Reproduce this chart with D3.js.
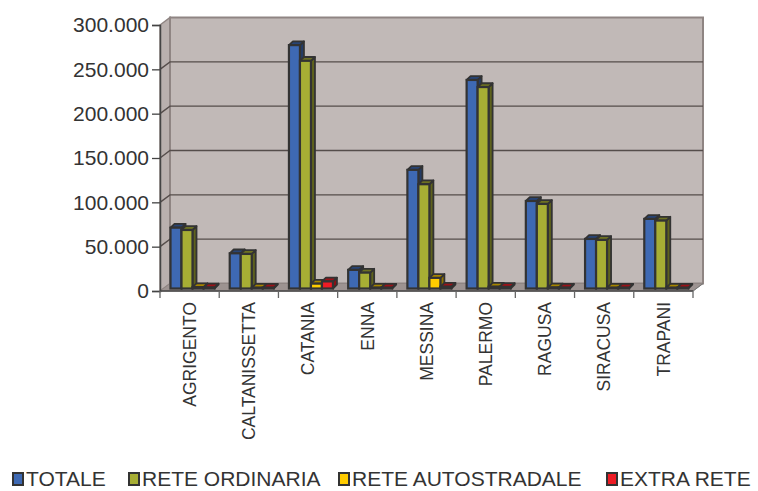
<!DOCTYPE html>
<html><head><meta charset="utf-8">
<script src="https://cdn.jsdelivr.net/npm/d3@7/dist/d3.min.js"></script>
<style>body{margin:0;background:#fff}svg{display:block}text{font-family:"Liberation Sans",Arial,sans-serif;fill:#333}</style>
</head><body><svg id="c" width="758" height="491"></svg>
<script>
const categories = ["AGRIGENTO","CALTANISSETTA","CATANIA","ENNA","MESSINA","PALERMO","RAGUSA","SIRACUSA","TRAPANI"];
const seriesNames = ["TOTALE","RETE ORDINARIA","RETE AUTOSTRADALE","EXTRA RETE"];
const totale = [68600, 39700, 274500, 21000, 133800, 235200, 98700, 55900, 78500];
const reteOrdinaria = [66000, 39000, 256800, 17900, 117600, 227200, 95400, 54800, 76600];
const reteAutostradale = [1500, 300, 5500, 1000, 12000, 2000, 1200, 500, 800];
const extraRete = [1100, 400, 8000, 800, 2000, 1800, 1000, 400, 900];
const yTicks = [0, 50000, 100000, 150000, 200000, 250000, 300000];
const colors = ["#3e69b3", "#a7ae34", "#ffcc00", "#ee1c25"];

const series = [totale, reteOrdinaria, reteAutostradale, extraRete];
const svg = d3.select("#c");
const X0 = 160, X1 = 693, DX = 10, DY = -7.5;
const x = d3.scaleBand().domain(categories).range([X0, X1]).padding(0);
const y = d3.scaleLinear().domain([0, 300000]).range([291, 25]);
const fmt = v => d3.format(",")(v).replace(/,/g, ".");

// walls
const wallStroke = "#8f8583";
svg.append("path").attr("d", `M${X0},${y(300000)}L${X0+DX},${y(300000)+DY}L${X0+DX},${y(0)+DY}L${X0},${y(0)}Z`)
  .attr("fill", "#b9b0ae").attr("stroke", wallStroke).attr("stroke-width", 1.5);
svg.append("rect").attr("x", X0+DX).attr("y", y(300000)+DY).attr("width", X1-X0).attr("height", y(0)-y(300000))
  .attr("fill", "#c1b9b7").attr("stroke", wallStroke).attr("stroke-width", 2);
svg.append("path").attr("d", `M${X0},${y(0)}L${X0+DX},${y(0)+DY}L${X1+DX},${y(0)+DY}L${X1},${y(0)}Z`)
  .attr("fill", "#9d9391").attr("stroke", wallStroke).attr("stroke-width", 1);

// gridlines
yTicks.filter(v => v > 0 && v < 300000).forEach(v => {
  svg.append("path").attr("d", `M${X0},${y(v)}L${X0+DX},${y(v)+DY}L${X1+DX},${y(v)+DY}`)
    .attr("fill", "none").attr("stroke", "#554d4b").attr("stroke-width", 1.4);
});

// axes
const yAxis = d3.axisLeft(y).tickValues(yTicks).tickSize(8).tickPadding(3).tickFormat(fmt);
const ya = svg.append("g").attr("transform", `translate(${X0},0)`).call(yAxis);
ya.select(".domain").attr("stroke", "#444").attr("stroke-width", 1.5);
ya.selectAll(".tick line").attr("stroke", "#444").attr("stroke-width", 1.3);
ya.selectAll(".tick text").attr("font-size", 21).attr("fill", "#333").attr("font-family", '"Liberation Sans",Arial,sans-serif');

const xa = svg.append("g").attr("transform", `translate(0,${y(0)})`);
xa.append("line").attr("x1", X0).attr("x2", X1).attr("stroke", "#444").attr("stroke-width", 1.5);
xa.append("line").attr("x1", X1).attr("y1", 0).attr("x2", X1+DX).attr("y2", DY).attr("stroke", "#777").attr("stroke-width", 1);
const bounds = categories.map(c => x(c)).concat([X1]);
xa.selectAll("line.t").data(bounds).enter().append("line").attr("class", "t")
  .attr("x1", d => d).attr("x2", d => d).attr("y1", 0).attr("y2", 7).attr("stroke", "#666").attr("stroke-width", 1.3);
xa.selectAll("text").data(categories).enter().append("text")
  .attr("transform", d => `translate(${x(d) + x.bandwidth()/2 + 6.3},11) rotate(-90)`)
  .attr("text-anchor", "end").attr("font-size", 17.5).text(d => d);

// bars
const bw = 11, bdx = 4, bdy = -3.8, off = 10.5, baseShift = -2.5;
categories.forEach((c, i) => {
  series.forEach((s, j) => {
    const col = colors[j];
    const bx = x(c) + off + j * bw;
    const yb = y(0) + baseShift;
    const yt = Math.min(y(s[i]) + baseShift, yb - 0.8);
    const g = svg.append("g");
    g.append("path").attr("d", `M${bx+bw},${yt}L${bx+bw+bdx},${yt+bdy}L${bx+bw+bdx},${yb+bdy}L${bx+bw},${yb}Z`)
      .attr("fill", d3.color(col).darker(1.6)).attr("stroke", "#333").attr("stroke-width", 1.8).attr("stroke-linejoin", "round");
    g.append("path").attr("d", `M${bx},${yt}L${bx+bdx},${yt+bdy}L${bx+bw+bdx},${yt+bdy}L${bx+bw},${yt}Z`)
      .attr("fill", d3.color(col).darker(1.2)).attr("stroke", "#333").attr("stroke-width", 1.8).attr("stroke-linejoin", "round");
    g.append("rect").attr("x", bx).attr("y", yt).attr("width", bw).attr("height", yb - yt)
      .attr("fill", col).attr("stroke", "#333").attr("stroke-width", 2.2);
  });
});

// legend
const legX = [12, 128, 338, 606];
const lg = svg.append("g");
seriesNames.forEach((n, j) => {
  lg.append("rect").attr("x", legX[j] + 1).attr("y", 473).attr("width", 10).attr("height", 12)
    .attr("fill", colors[j]).attr("stroke", "#333").attr("stroke-width", 2);
  lg.append("text").attr("x", legX[j] + 14).attr("y", 486).attr("font-size", 21).text(n);
});
</script></body></html>
